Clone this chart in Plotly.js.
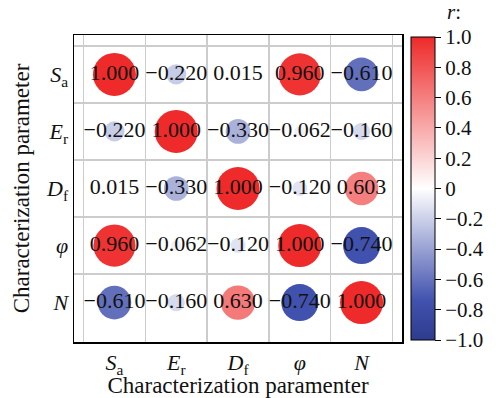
<!DOCTYPE html>
<html>
<head>
<meta charset="utf-8">
<script src="https://cdn.plot.ly/plotly-3.0.1.min.js"></script>
<style>html,body{margin:0;padding:0;background:#fff;}#chart{width:500px;height:398px;}</style>
</head>
<body>
<div id="chart"></div>
<script>
// Parameters (tick labels)
const params = ['<i>S</i><sub>a</sub>', '<i>E</i><sub>r</sub>', '<i>D</i><sub>f</sub>', '<i>φ</i>', '<i>N</i>'];
// Correlation values as printed, row by row
const rowSa  = [1.000, -0.220, 0.015, 0.960, -0.610];
const rowEr  = [-0.220, 1.000, -0.330, -0.062, -0.160];
const rowDf  = [0.015, -0.330, 1.000, -0.120, 0.603];
const rowPhi = [0.960, -0.062, -0.120, 1.000, -0.740];
const rowN   = [-0.610, -0.160, 0.630, -0.740, 1.000];
const rows = [rowSa, rowEr, rowDf, rowPhi, rowN];
// Colour bar ticks
const cbTicks = [-1, -0.8, -0.6, -0.4, -0.2, 0, 0.2, 0.4, 0.6, 0.8, 1];
const cbTickText = ['\u22121.0', '\u22120.8', '\u22120.6', '\u22120.4', '\u22120.2', '0', '0.2', '0.4', '0.6', '0.8', '1.0'];

const xs = [], ys = [], vals = [], labels = [];
rows.forEach((row, i) => {
  row.forEach((v, j) => {
    xs.push(params[j]);
    ys.push(params[i]);
    vals.push(v);
    labels.push(v.toFixed(3).replace('-', '\u2212'));
  });
});

const fam = '"Liberation Serif", "Times New Roman", serif';
const ink = '#111';

const trace = {
  type: 'scatter',
  mode: 'markers+text',
  x: xs, y: ys,
  text: labels,
  textposition: 'middle center',
  textfont: {family: fam, size: 22, color: ink},
  hoverinfo: 'none',
  marker: {
    size: vals.map(Math.abs),
    sizemode: 'area',
    sizeref: 2 / (43 * 43),
    opacity: 1,
    color: vals,
    cmin: -1, cmax: 1,
    colorscale: [[0, '#2E3C8E'], [0.13, '#4152AE'], [0.5, '#FFFFFF'], [1, '#EE2A2A']],
    line: {width: 0},
    colorbar: {
      x: 1.027, xanchor: 'left', xpad: 0,
      y: 0.5, yanchor: 'middle', ypad: 0,
      len: 303, lenmode: 'pixels',
      thickness: 24,
      outlinewidth: 1, outlinecolor: '#000',
      ticks: 'outside', ticklen: 6, tickcolor: '#000',
      tickvals: cbTicks,
      ticktext: cbTickText,
      tickfont: {family: fam, size: 21, color: ink}
    }
  }
};

const layout = {
  width: 500, height: 398,
  margin: {l: 74, r: 98, t: 35, b: 56},
  paper_bgcolor: '#fff', plot_bgcolor: '#fff',
  showlegend: false,
  font: {family: fam, color: ink},
  xaxis: {
    type: 'category',
    categoryorder: 'array', categoryarray: params,
    tickson: 'boundaries',
    showgrid: true, gridcolor: '#cccccc', gridwidth: 1.5,
    showline: true, linecolor: '#000', linewidth: 1.5, mirror: true,
    ticks: '', zeroline: false,
    tickfont: {family: fam, size: 22, color: ink},
    title: {text: 'Characterization paramenter', font: {family: fam, size: 23, color: ink}, standoff: 1}
  },
  yaxis: {
    type: 'category',
    categoryorder: 'array', categoryarray: params,
    autorange: 'reversed',
    tickson: 'boundaries',
    showgrid: true, gridcolor: '#cccccc', gridwidth: 1.5,
    showline: true, linecolor: '#000', linewidth: 1.5, mirror: true,
    ticks: '', zeroline: false,
    tickfont: {family: fam, size: 22, color: ink},
    title: {text: 'Characterization parameter', font: {family: fam, size: 23, color: ink}, standoff: 10}
  },
  annotations: [{
    text: '<i>r</i>:', xref: 'paper', yref: 'paper',
    x: 1.16, y: 1.075, xanchor: 'center', yanchor: 'middle',
    showarrow: false, font: {family: fam, size: 21, color: ink}
  }]
};

Plotly.newPlot('chart', [trace], layout, {displayModeBar: false, staticPlot: true});
</script>
</body>
</html>
